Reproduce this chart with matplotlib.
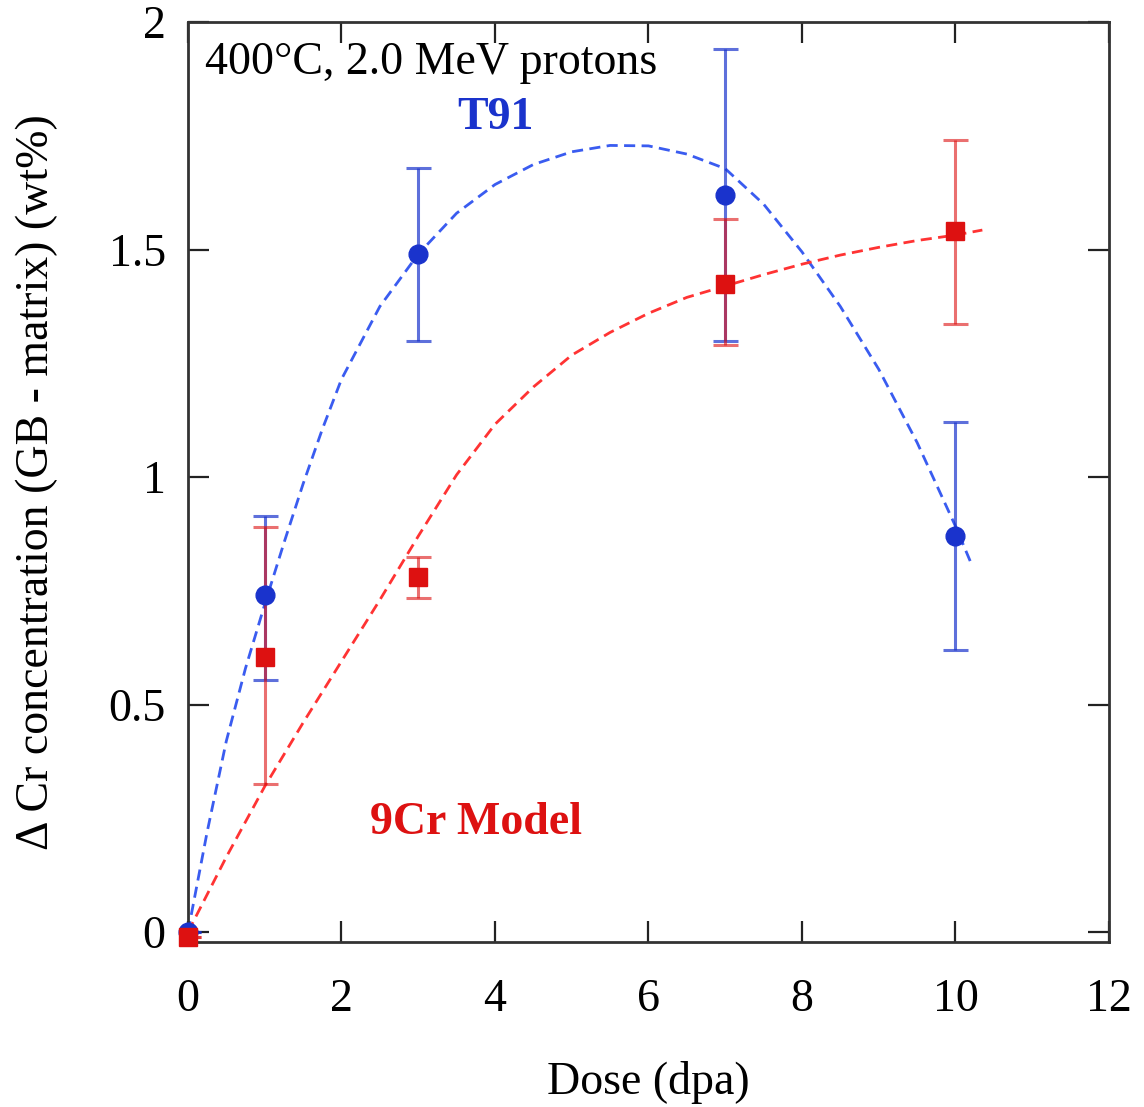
import numpy as np
import matplotlib.pyplot as plt

plt.rcParams['font.family'] = ['Liberation Serif', 'DejaVu Serif']

# measured data (dose in dpa, delta Cr in wt%)
dose = [0, 1, 3, 7, 10]
t91 = [0.0, 0.74, 1.49, 1.62, 0.87]
t91_lo = [0.0, 0.555, 1.30, 1.30, 0.62]
t91_hi = [0.0, 0.915, 1.68, 1.94, 1.12]
cr9 = [-0.01, 0.605, 0.78, 1.425, 1.54]
cr9_lo = [-0.01, 0.325, 0.735, 1.29, 1.337]
cr9_hi = [-0.01, 0.89, 0.825, 1.568, 1.742]

# dashed guide curves
t91_fit_x = [0, 0.25, 0.5, 0.75, 1, 1.25, 1.5, 1.75, 2, 2.5, 3, 3.5, 4, 4.5, 5, 5.5, 6,
             6.5, 7, 7.5, 8, 8.5, 9, 9.5, 10, 10.2]
t91_fit_y = [0, 0.22, 0.42, 0.58, 0.72, 0.855, 0.985, 1.105, 1.215, 1.375, 1.49, 1.58,
             1.643, 1.687, 1.715, 1.729, 1.728, 1.71, 1.678, 1.60, 1.495, 1.375, 1.237,
             1.076, 0.892, 0.812]
cr9_fit_x = [0, 0.5, 1, 1.5, 2, 2.5, 3, 3.5, 4, 4.5, 5, 5.5, 6, 6.5, 7, 7.5, 8, 8.5,
             9, 9.5, 10, 10.35]
cr9_fit_y = [0, 0.165, 0.32, 0.46, 0.595, 0.73, 0.87, 1.005, 1.116, 1.198, 1.268, 1.318,
             1.36, 1.395, 1.42, 1.445, 1.468, 1.488, 1.505, 1.52, 1.532, 1.543]

blue = '#1a33cc'
blue_l = '#3a5cf0'
red = '#dd1111'
red_l = '#ff3333'

fig = plt.figure(figsize=(11.44, 11.07), dpi=100)
ax = fig.add_axes([0.1643, 0.149, 0.9694 - 0.1643, 0.980 - 0.149])

ax.plot(t91_fit_x, t91_fit_y, color=blue_l, lw=2.0, dashes=(4, 2.3), zorder=2)
ax.plot(cr9_fit_x, cr9_fit_y, color=red_l, lw=2.0, dashes=(4, 2.3), zorder=2)

t91 = np.array(t91)
cr9 = np.array(cr9)
t91_err = [t91 - np.array(t91_lo), np.array(t91_hi) - t91]
cr9_err = [cr9 - np.array(cr9_lo), np.array(cr9_hi) - cr9]
ax.errorbar(dose, t91, yerr=t91_err, fmt='none', ecolor=blue, elinewidth=2.2,
            capsize=9, capthick=2.2, alpha=0.7, zorder=3)
ax.errorbar(dose, cr9, yerr=cr9_err, fmt='none', ecolor=red, elinewidth=2.2,
            capsize=9, capthick=2.2, alpha=0.6, zorder=4)
ax.plot(dose, t91, 'o', color=blue, ms=13.5, zorder=5, clip_on=False)
ax.plot(dose, cr9, 's', color=red, ms=13, zorder=6, clip_on=False)

ax.text(0.22, 1.91, '400°C, 2.0 MeV protons', fontsize=33, va='center', ha='left')
ax.text(4.0, 1.79, 'T91', fontsize=33, color=blue, fontweight='bold', ha='center', va='center')
ax.text(3.75, 0.24, '9Cr Model', fontsize=33, color=red, fontweight='bold', ha='center', va='center')

ax.set_xlim(0, 12)
ax.set_ylim(-0.022, 2.0)
ax.set_xticks([0, 2, 4, 6, 8, 10, 12])
ax.set_yticks([0, 0.5, 1, 1.5, 2])
ax.set_yticklabels(['0', '0.5', '1', '1.5', '2'])
ax.tick_params(direction='in', length=15, width=1.6, labelsize=33, top=True, right=True,
               color='#222222')
ax.tick_params(axis='x', pad=26)
ax.tick_params(axis='y', pad=16)
for s in ax.spines.values():
    s.set_linewidth(2)
    s.set_color('#333333')

ax.set_xlabel('Dose (dpa)', fontsize=33, labelpad=29)
ax.set_ylabel('Δ Cr concentration (GB - matrix) (wt%)', fontsize=33, labelpad=36)

fig.savefig('out.png', dpi=100)
